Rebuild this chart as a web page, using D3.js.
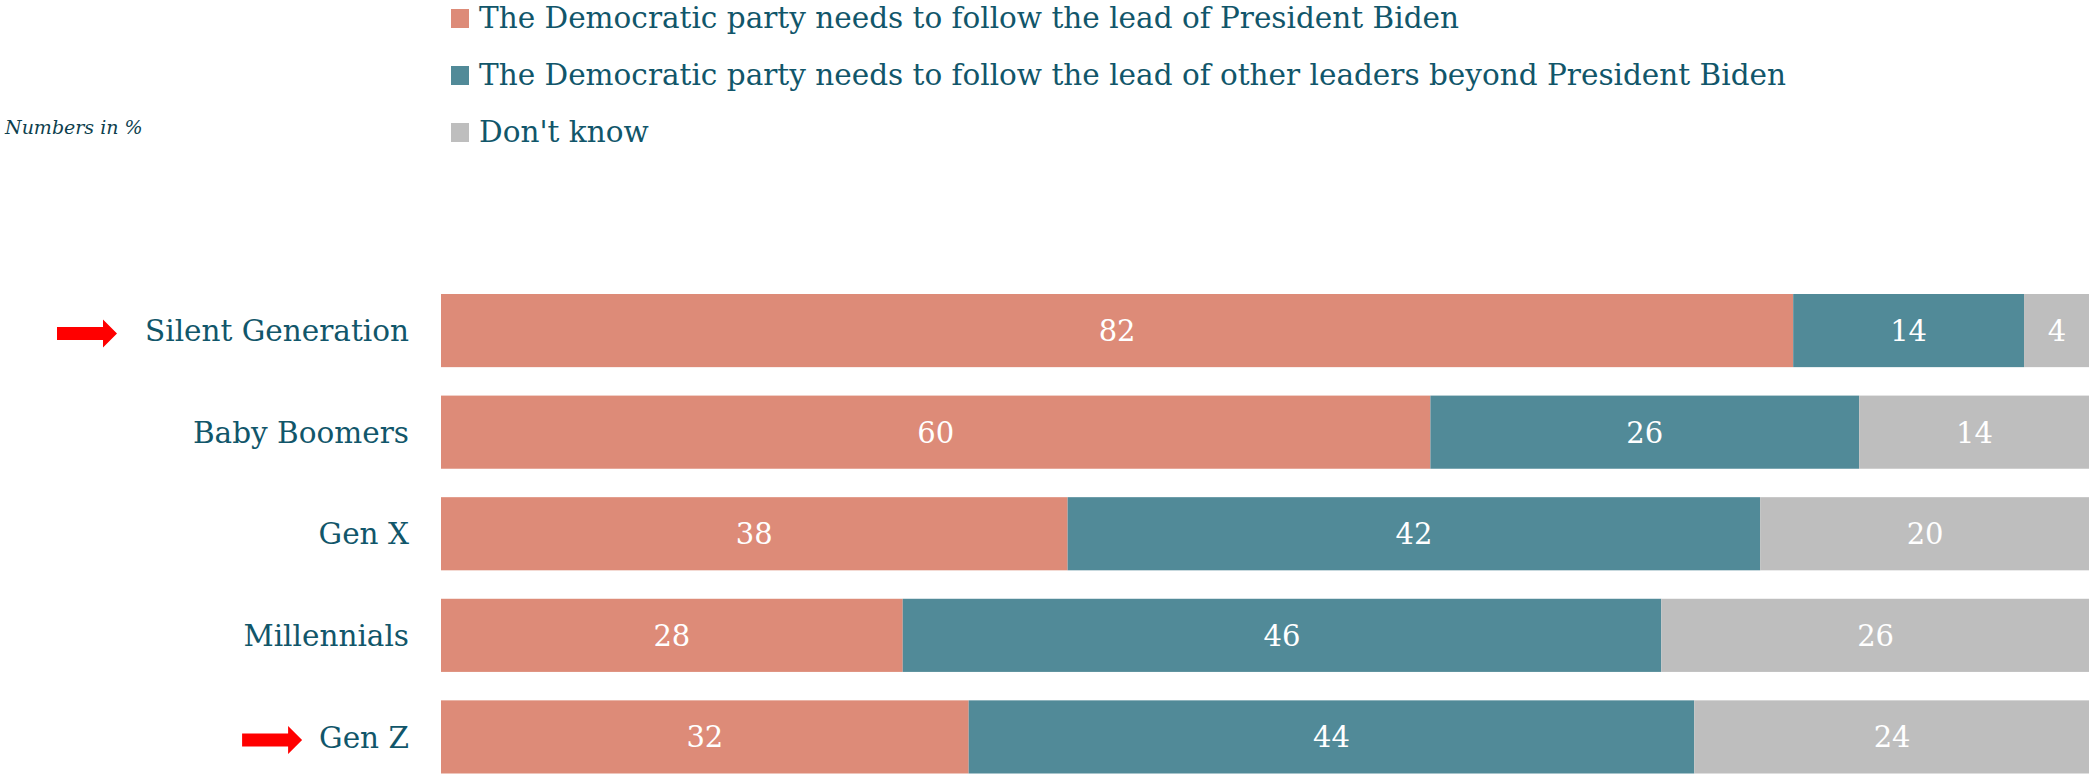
<!DOCTYPE html>
<html>
<head>
<meta charset="utf-8">
<script src="https://cdn.jsdelivr.net/npm/d3@7/dist/d3.min.js"></script>
<style>
  html, body { margin: 0; padding: 0; background: #ffffff; }
  svg { display: block; }
  text { font-family: "DejaVu Serif", serif; }
</style>
</head>
<body>
<svg id="chart" width="2089" height="774"></svg>
<script>
// ---- data ----
const categories = ["Silent Generation", "Baby Boomers", "Gen X", "Millennials", "Gen Z"];
const seriesNames = [
  "The Democratic party needs to follow the lead of President Biden",
  "The Democratic party needs to follow the lead of other leaders beyond President Biden",
  "Don't know"
];
const followBiden = [82, 60, 38, 28, 32];
const followOthers = [14, 26, 42, 46, 44];
const dontKnow = [4, 14, 20, 26, 24];
const seriesColors = ["#DD8B78", "#518A98", "#BEBEBE"];
const highlighted = [
  { category: "Silent Generation", gap: 28 },
  { category: "Gen Z", gap: 17 }
];
const noteText = "Numbers in %";

// ---- layout ----
const textColor = "#11566A";
const svg = d3.select("#chart");

const x = d3.scaleLinear().domain([0, 100]).range([441, 2090]);
const y = d3.scaleBand().domain(categories).range([294, 773.5]).paddingInner(0.28).paddingOuter(0);

const stackData = categories.map((c, i) => ({ category: c, s0: followBiden[i], s1: followOthers[i], s2: dontKnow[i] }));
const series = d3.stack().keys(["s0", "s1", "s2"])(stackData);

// bars and value labels
const g = svg.append("g");
series.forEach((s, si) => {
  g.append("g").attr("fill", seriesColors[si])
    .selectAll("rect").data(s).join("rect")
    .attr("x", d => x(d[0]))
    .attr("y", d => y(d.data.category))
    .attr("width", d => x(d[1]) - x(d[0]))
    .attr("height", y.bandwidth());
  g.append("g").selectAll("text").data(s).join("text")
    .attr("x", d => (x(d[0]) + x(Math.min(d[1], 100))) / 2)
    .attr("y", d => y(d.data.category) + y.bandwidth() / 2)
    .attr("dy", "0.36em")
    .attr("text-anchor", "middle")
    .attr("fill", "#ffffff")
    .attr("font-size", 29)
    .text(d => d[1] - d[0]);
});

// category axis labels
const yAxis = d3.axisLeft(y).tickSize(0).tickPadding(0);
const axisG = svg.append("g").attr("transform", "translate(409,0)").call(yAxis);
axisG.select(".domain").remove();
axisG.selectAll("text")
  .attr("font-family", "DejaVu Serif, serif")
  .attr("font-size", 29.5)
  .attr("fill", textColor)
  .attr("dy", "0.36em");

// highlight arrows
highlighted.forEach(h => {
  const tick = axisG.selectAll(".tick").filter(d => d === h.category);
  const bb = tick.select("text").node().getBBox();
  const right = 409 + bb.x - h.gap;
  const cy = y(h.category) + y.bandwidth() / 2 + 3;
  const len = 60, headLen = 14, shaftH = 13, headH = 28;
  const left = right - len;
  const pts = [
    [left, cy - shaftH / 2], [right - headLen, cy - shaftH / 2], [right - headLen, cy - headH / 2],
    [right, cy], [right - headLen, cy + headH / 2], [right - headLen, cy + shaftH / 2], [left, cy + shaftH / 2]
  ];
  svg.append("polygon").attr("points", pts.map(p => p.join(",")).join(" ")).attr("fill", "#FF0000");
});

// legend
const legend = svg.append("g").attr("transform", "translate(451,0)");
const legendY = d3.scalePoint().domain(seriesNames).range([28, 142]);
seriesNames.forEach((n, i) => {
  legend.append("rect")
    .attr("x", 0).attr("y", legendY(n) - 19)
    .attr("width", 18).attr("height", 19)
    .attr("fill", seriesColors[i]);
  legend.append("text")
    .attr("x", 28).attr("y", legendY(n))
    .attr("font-size", 29.5)
    .attr("fill", textColor)
    .text(n);
});

// note
svg.append("text")
  .attr("x", 5).attr("y", 134)
  .attr("font-size", 19)
  .attr("font-style", "italic")
  .attr("fill", "#0E3F4E")
  .text(noteText);
</script>
</body>
</html>
